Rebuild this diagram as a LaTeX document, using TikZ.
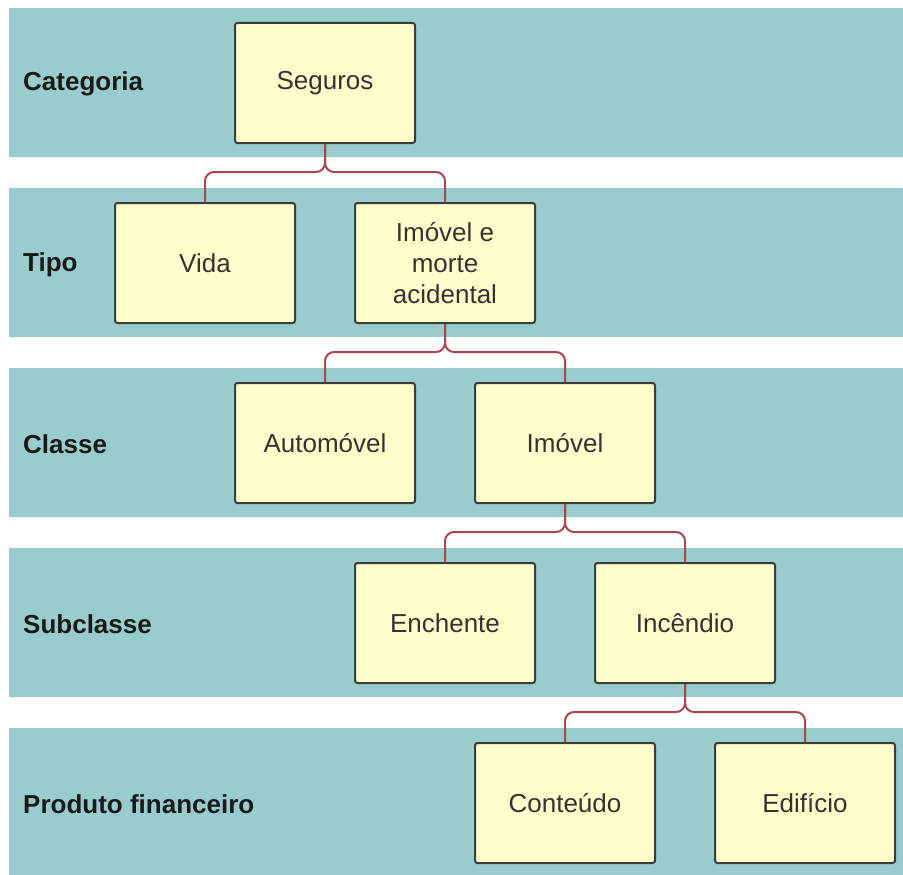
\documentclass[tikz,border=0pt]{standalone}
\usepackage{fontspec}
\setmainfont{Liberation Sans}
\usetikzlibrary{calc,positioning}
\definecolor{bandteal}{HTML}{99CCCC}
\definecolor{boxfill}{HTML}{FFFFCC}
\definecolor{boxline}{HTML}{3C3C3C}
\definecolor{linkred}{HTML}{AC454D}
\definecolor{labeltext}{HTML}{1A1A1A}
\definecolor{boxtext}{HTML}{333333}
\tikzset{
  levelbox/.style={draw=boxline, fill=boxfill, line width=2pt, rounded corners=2.5pt,
    minimum width=180, minimum height=120, inner sep=0pt, align=center,
    text=boxtext, font=\fontsize{26}{31}\selectfont},
  levellabel/.style={anchor=west, inner sep=0pt, text=labeltext,
    font=\fontsize{26}{31}\selectfont\bfseries},
  link/.style={draw=linkred, line width=2pt, rounded corners=9pt}
}
\begin{document}
\begin{tikzpicture}[x=1pt, y=-1pt]
  %%%%% BANDS %%%%%
  \useasboundingbox (0,0) rectangle (903,875);
  \foreach \k in {0,...,3}
    \fill[bandteal] (9,{8+180*\k}) rectangle (903,{157+180*\k});
  \fill[bandteal] (9,728) rectangle (903,875);

  %%%%% LEVEL NAMES %%%%%
  \node[levellabel] (lcat) at (23, 84) {Categoria};
  \node[levellabel] (ltipo) at (23, 265) {Tipo};
  \node[levellabel] (lclasse) at (23, 444) {Classe};
  \node[levellabel] (lsub) at (23, 624) {Subclasse};
  \node[levellabel] (lprod) at (23, 804) {Produto financeiro};

  %%%%% BOXES %%%%%
  \node[levelbox] (seguros) at (325, 83) {Seguros};
  \node[levelbox] (vida) at (205, 263) {Vida};
  \node[levelbox] (imorte) at (445, 263) {Imóvel e\\morte\\acidental};
  \node[levelbox] (auto) at (325, 443) {Automóvel};
  \node[levelbox] (imovel) at (565, 443) {Imóvel};
  \node[levelbox] (enchente) at (445, 623) {Enchente};
  \node[levelbox] (incendio) at (685, 623) {Incêndio};
  \node[levelbox] (conteudo) at (565, 803) {Conteúdo};
  \node[levelbox] (edificio) at (805, 803) {Edifício};

  %%%%% LINKS %%%%%
  \foreach \p/\c in {seguros/vida, seguros/imorte, imorte/auto, imorte/imovel,
                     imovel/enchente, imovel/incendio, incendio/conteudo, incendio/edificio}
    \draw[link] (\p.south) |- ($(\c.north)+(0,-30)$) -- (\c.north);
\end{tikzpicture}
\end{document}
